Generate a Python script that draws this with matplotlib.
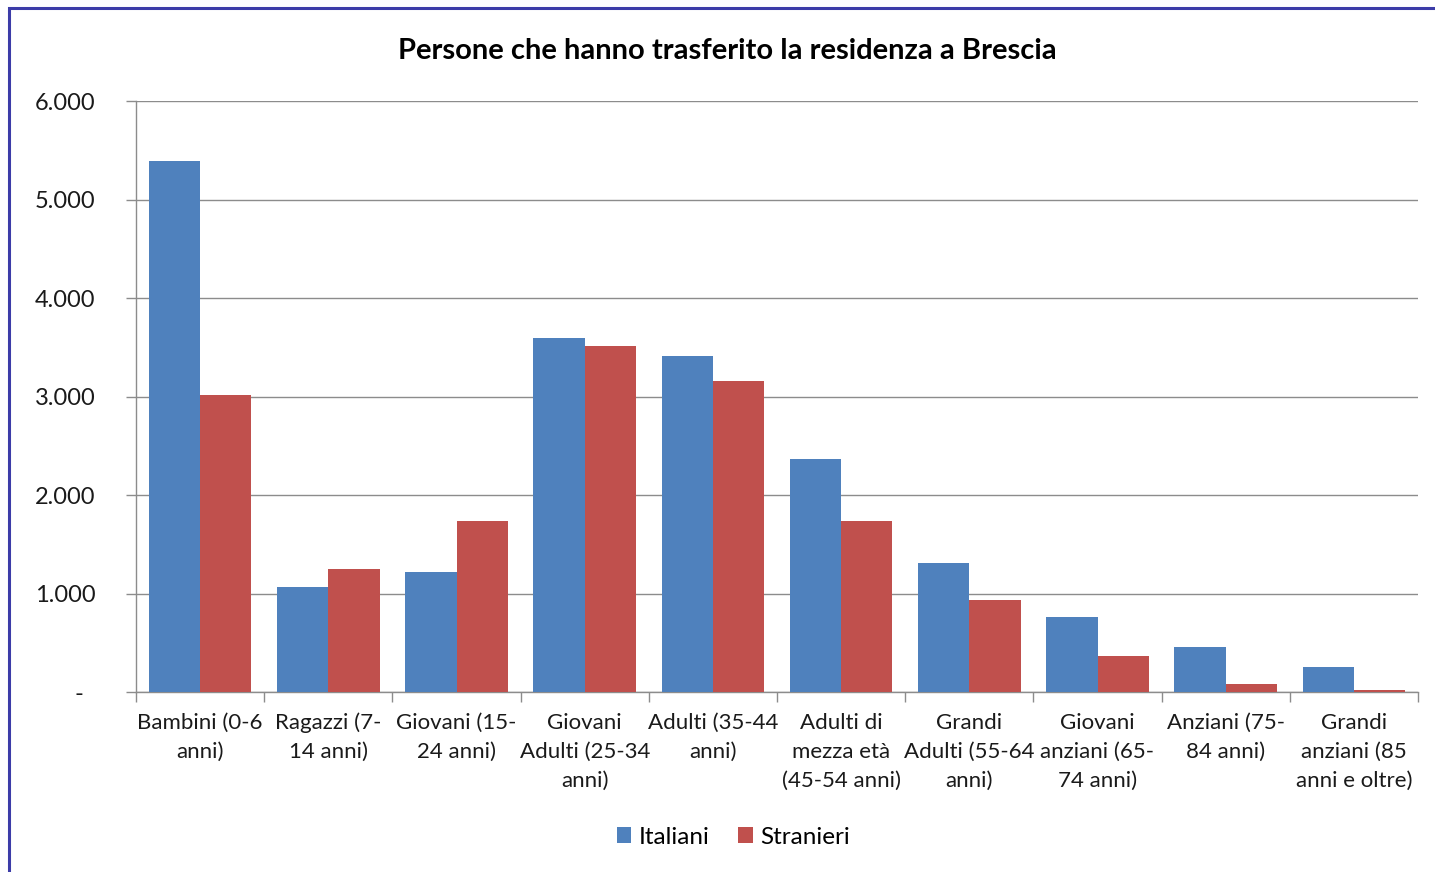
import numpy as np
import matplotlib
matplotlib.use("Agg")
import matplotlib.pyplot as plt
from matplotlib.patches import Rectangle
from matplotlib.ticker import FuncFormatter

plt.rcParams['font.family'] = ['Lato', 'DejaVu Sans']

categories = ["Bambini (0-6\nanni)", "Ragazzi (7-\n14 anni)", "Giovani (15-\n24 anni)",
              "Giovani\nAdulti (25-34\nanni)", "Adulti (35-44\nanni)",
              "Adulti di\nmezza età\n(45-54 anni)", "Grandi\nAdulti (55-64\nanni)",
              "Giovani\nanziani (65-\n74 anni)", "Anziani (75-\n84 anni)",
              "Grandi\nanziani (85\nanni e oltre)"]
italiani = [5390, 1065, 1220, 3595, 3410, 2365, 1310, 760, 455, 255]
stranieri = [3015, 1250, 1735, 3515, 3160, 1735, 935, 365, 80, 20]
yticks = [0, 1000, 2000, 3000, 4000, 5000, 6000]

blue = "#4F81BD"
red = "#C0504D"
grid = "#8C8C8C"

fig = plt.figure(figsize=(14.35, 8.72), dpi=100)
ax = fig.add_axes([136/1435, 1-692/872, (1418-136)/1435, (692-101)/872])

x = np.arange(len(categories))
w = 0.4
ax.bar(x - w/2, italiani, w, color=blue, label="Italiani", zorder=3)
ax.bar(x + w/2, stranieri, w, color=red, label="Stranieri", zorder=3)

ax.set_xlim(-0.5, len(categories) - 0.5)
ax.set_ylim(0, 6000)
ax.set_yticks(yticks)
ax.yaxis.set_major_formatter(FuncFormatter(
    lambda v, p: "-  " if v == 0 else f"{int(v):,}".replace(",", ".")))
ax.yaxis.grid(True, color=grid, linewidth=1, zorder=0)

ax.set_xticks(x)
ax.set_xticklabels(categories, fontsize=16, color="#1a1a1a", linespacing=1.55)
ax.set_xticks(np.arange(len(categories) + 1) - 0.5, minor=True)
ax.tick_params(axis='x', which='major', length=0, pad=15)
ax.tick_params(axis='x', which='minor', length=7, color=grid, width=1)
ax.tick_params(axis='y', length=7, color=grid, width=1, pad=22, labelsize=17,
               labelcolor="#1a1a1a")

for s in ['top', 'right']:
    ax.spines[s].set_visible(False)
for s in ['left', 'bottom']:
    ax.spines[s].set_color(grid)
    ax.spines[s].set_linewidth(1)

fig.text(0.507, 1-51/872, "Persone che hanno trasferito la residenza a Brescia",
         ha='center', va='center', fontsize=21, fontweight='bold')

fig.legend(loc='center', bbox_to_anchor=(0.511, 1-837/872), ncol=2, frameon=False,
           fontsize=17.5, handlelength=0.6, handleheight=0.6, handletextpad=0.3,
           columnspacing=1.2)

fig.patches.append(Rectangle((9/1435, -0.1), 1.2, 1-8/872 + 0.1,
                             transform=fig.transFigure, fill=False,
                             edgecolor="#3C3CA8", linewidth=2.2))

fig.savefig("out.png", dpi=100, facecolor="white")
